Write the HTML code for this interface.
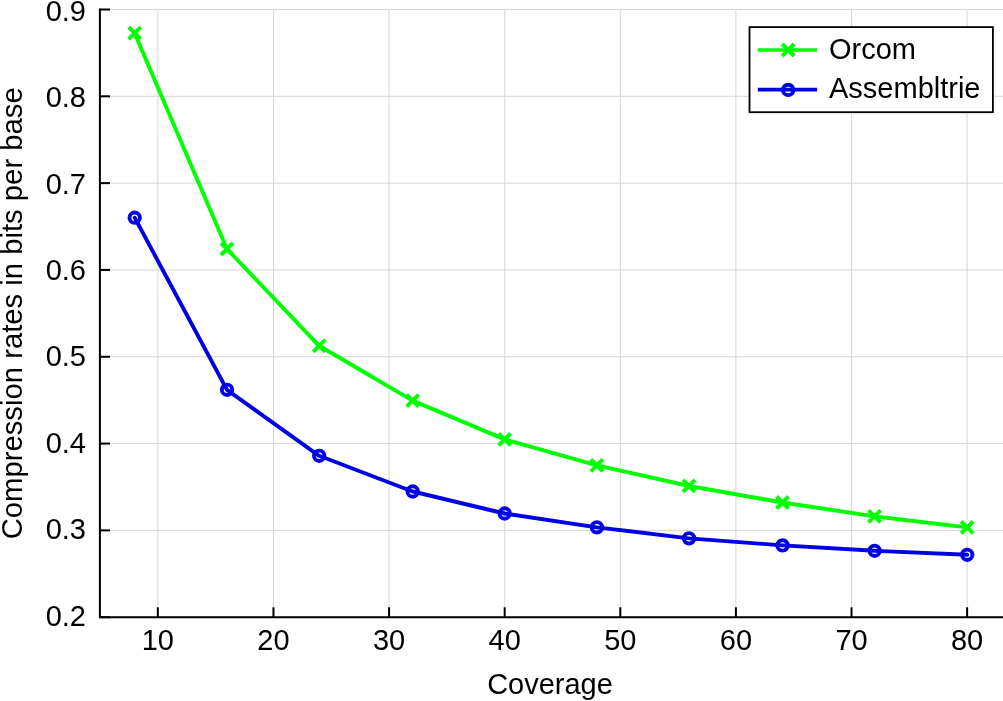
<!DOCTYPE html>
<html><head><meta charset="utf-8"><style>
html,body{margin:0;padding:0;background:#fff;}
body{width:1003px;height:701px;position:relative;overflow:hidden;font-family:"Liberation Sans", sans-serif;}
svg text{font-family:"Liberation Sans", sans-serif;fill:#000;}
svg{will-change:transform;}
</style></head><body>
<svg width="1003" height="701" viewBox="0 0 1003 701" style="position:absolute;left:0;top:0">
<line x1="157.85" y1="9" x2="157.85" y2="617" stroke="#d6d6d6" stroke-width="1"/>
<line x1="273.46" y1="9" x2="273.46" y2="617" stroke="#d6d6d6" stroke-width="1"/>
<line x1="389.07" y1="9" x2="389.07" y2="617" stroke="#d6d6d6" stroke-width="1"/>
<line x1="504.68" y1="9" x2="504.68" y2="617" stroke="#d6d6d6" stroke-width="1"/>
<line x1="620.29" y1="9" x2="620.29" y2="617" stroke="#d6d6d6" stroke-width="1"/>
<line x1="735.90" y1="9" x2="735.90" y2="617" stroke="#d6d6d6" stroke-width="1"/>
<line x1="851.51" y1="9" x2="851.51" y2="617" stroke="#d6d6d6" stroke-width="1"/>
<line x1="967.12" y1="9" x2="967.12" y2="617" stroke="#d6d6d6" stroke-width="1"/>
<line x1="100" y1="530.38" x2="1003" y2="530.38" stroke="#d6d6d6" stroke-width="1"/>
<line x1="100" y1="443.57" x2="1003" y2="443.57" stroke="#d6d6d6" stroke-width="1"/>
<line x1="100" y1="356.76" x2="1003" y2="356.76" stroke="#d6d6d6" stroke-width="1"/>
<line x1="100" y1="269.94" x2="1003" y2="269.94" stroke="#d6d6d6" stroke-width="1"/>
<line x1="100" y1="183.13" x2="1003" y2="183.13" stroke="#d6d6d6" stroke-width="1"/>
<line x1="100" y1="96.31" x2="1003" y2="96.31" stroke="#d6d6d6" stroke-width="1"/>
<line x1="100" y1="9.50" x2="1003" y2="9.50" stroke="#d6d6d6" stroke-width="1"/>
<path d="M99.9 8.5 V617.2 H1003" fill="none" stroke="#000" stroke-width="2"/>
<line x1="100" y1="617.20" x2="110" y2="617.20" stroke="#000" stroke-width="2"/>
<text x="86" y="625.55" text-anchor="end" font-size="29">0.2</text>
<line x1="100" y1="530.38" x2="110" y2="530.38" stroke="#000" stroke-width="2"/>
<text x="86" y="539.17" text-anchor="end" font-size="29">0.3</text>
<line x1="100" y1="443.57" x2="110" y2="443.57" stroke="#000" stroke-width="2"/>
<text x="86" y="452.78" text-anchor="end" font-size="29">0.4</text>
<line x1="100" y1="356.76" x2="110" y2="356.76" stroke="#000" stroke-width="2"/>
<text x="86" y="366.39" text-anchor="end" font-size="29">0.5</text>
<line x1="100" y1="269.94" x2="110" y2="269.94" stroke="#000" stroke-width="2"/>
<text x="86" y="280.01" text-anchor="end" font-size="29">0.6</text>
<line x1="100" y1="183.13" x2="110" y2="183.13" stroke="#000" stroke-width="2"/>
<text x="86" y="193.62" text-anchor="end" font-size="29">0.7</text>
<line x1="100" y1="96.31" x2="110" y2="96.31" stroke="#000" stroke-width="2"/>
<text x="86" y="107.24" text-anchor="end" font-size="29">0.8</text>
<line x1="100" y1="9.50" x2="110" y2="9.50" stroke="#000" stroke-width="2"/>
<text x="86" y="20.85" text-anchor="end" font-size="29">0.9</text>
<line x1="157.85" y1="617.3" x2="157.85" y2="607.3" stroke="#000" stroke-width="2"/>
<text x="157.85" y="650.35" text-anchor="middle" font-size="29">10</text>
<line x1="273.46" y1="617.3" x2="273.46" y2="607.3" stroke="#000" stroke-width="2"/>
<text x="273.46" y="650.35" text-anchor="middle" font-size="29">20</text>
<line x1="389.07" y1="617.3" x2="389.07" y2="607.3" stroke="#000" stroke-width="2"/>
<text x="389.07" y="650.35" text-anchor="middle" font-size="29">30</text>
<line x1="504.68" y1="617.3" x2="504.68" y2="607.3" stroke="#000" stroke-width="2"/>
<text x="504.68" y="650.35" text-anchor="middle" font-size="29">40</text>
<line x1="620.29" y1="617.3" x2="620.29" y2="607.3" stroke="#000" stroke-width="2"/>
<text x="620.29" y="650.35" text-anchor="middle" font-size="29">50</text>
<line x1="735.90" y1="617.3" x2="735.90" y2="607.3" stroke="#000" stroke-width="2"/>
<text x="735.90" y="650.35" text-anchor="middle" font-size="29">60</text>
<line x1="851.51" y1="617.3" x2="851.51" y2="607.3" stroke="#000" stroke-width="2"/>
<text x="851.51" y="650.35" text-anchor="middle" font-size="29">70</text>
<line x1="967.12" y1="617.3" x2="967.12" y2="607.3" stroke="#000" stroke-width="2"/>
<text x="967.12" y="650.35" text-anchor="middle" font-size="29">80</text>
<text x="550" y="694.2" text-anchor="middle" font-size="29">Coverage</text>
<text transform="translate(22.3 313.3) rotate(-90)" x="0" y="0" text-anchor="middle" font-size="29.25">Compression rates in bits per base</text>
<polyline points="134.70,33.20 227.00,249.00 319.20,345.80 412.70,400.66 504.67,439.33 596.88,465.33 689.02,485.99 782.54,502.50 874.62,516.40 967.19,527.40" fill="none" stroke="#00ff00" stroke-width="3.9" stroke-linejoin="round" stroke-linecap="round"/>
<path d="M128.70 27.20 L140.70 39.20 M128.70 39.20 L140.70 27.20" stroke="#00ff00" stroke-width="3.9" fill="none"/>
<path d="M221.00 243.00 L233.00 255.00 M221.00 255.00 L233.00 243.00" stroke="#00ff00" stroke-width="3.9" fill="none"/>
<path d="M313.20 339.80 L325.20 351.80 M313.20 351.80 L325.20 339.80" stroke="#00ff00" stroke-width="3.9" fill="none"/>
<path d="M406.70 394.66 L418.70 406.66 M406.70 406.66 L418.70 394.66" stroke="#00ff00" stroke-width="3.9" fill="none"/>
<path d="M498.67 433.33 L510.67 445.33 M498.67 445.33 L510.67 433.33" stroke="#00ff00" stroke-width="3.9" fill="none"/>
<path d="M590.88 459.33 L602.88 471.33 M590.88 471.33 L602.88 459.33" stroke="#00ff00" stroke-width="3.9" fill="none"/>
<path d="M683.02 479.99 L695.02 491.99 M683.02 491.99 L695.02 479.99" stroke="#00ff00" stroke-width="3.9" fill="none"/>
<path d="M776.54 496.50 L788.54 508.50 M776.54 508.50 L788.54 496.50" stroke="#00ff00" stroke-width="3.9" fill="none"/>
<path d="M868.62 510.40 L880.62 522.40 M868.62 522.40 L880.62 510.40" stroke="#00ff00" stroke-width="3.9" fill="none"/>
<path d="M961.19 521.40 L973.19 533.40 M961.19 533.40 L973.19 521.40" stroke="#00ff00" stroke-width="3.9" fill="none"/>
<polyline points="134.70,217.70 227.00,389.80 319.20,455.80 412.70,491.50 504.67,513.50 596.88,527.33 689.02,538.33 782.54,545.40 874.62,550.80 967.19,554.80" fill="none" stroke="#0000e6" stroke-width="3.9" stroke-linejoin="round" stroke-linecap="round"/>
<circle cx="134.70" cy="217.70" r="5.2" stroke="#0000e6" stroke-width="3.9" fill="none"/>
<circle cx="227.00" cy="389.80" r="5.2" stroke="#0000e6" stroke-width="3.9" fill="none"/>
<circle cx="319.20" cy="455.80" r="5.2" stroke="#0000e6" stroke-width="3.9" fill="none"/>
<circle cx="412.70" cy="491.50" r="5.2" stroke="#0000e6" stroke-width="3.9" fill="none"/>
<circle cx="504.67" cy="513.50" r="5.2" stroke="#0000e6" stroke-width="3.9" fill="none"/>
<circle cx="596.88" cy="527.33" r="5.2" stroke="#0000e6" stroke-width="3.9" fill="none"/>
<circle cx="689.02" cy="538.33" r="5.2" stroke="#0000e6" stroke-width="3.9" fill="none"/>
<circle cx="782.54" cy="545.40" r="5.2" stroke="#0000e6" stroke-width="3.9" fill="none"/>
<circle cx="874.62" cy="550.80" r="5.2" stroke="#0000e6" stroke-width="3.9" fill="none"/>
<circle cx="967.19" cy="554.80" r="5.2" stroke="#0000e6" stroke-width="3.9" fill="none"/>
<rect x="749.5" y="27.1" width="243.4" height="85.1" fill="#fff" stroke="#000" stroke-width="1.8"/>
<line x1="757.8" y1="50" x2="817.1" y2="50" stroke="#00ff00" stroke-width="3.6"/>
<path d="M782.20 44.00 L794.20 56.00 M782.20 56.00 L794.20 44.00" stroke="#00ff00" stroke-width="3.9" fill="none"/>
<line x1="757.8" y1="89.6" x2="817.1" y2="89.6" stroke="#0000e6" stroke-width="3.6"/>
<circle cx="788.20" cy="89.90" r="5.2" stroke="#0000e6" stroke-width="3.9" fill="none"/>
<text x="829" y="58.7" font-size="29">Orcom</text>
<text x="829" y="97.8" font-size="29">Assembltrie</text>
</svg>
</body></html>
